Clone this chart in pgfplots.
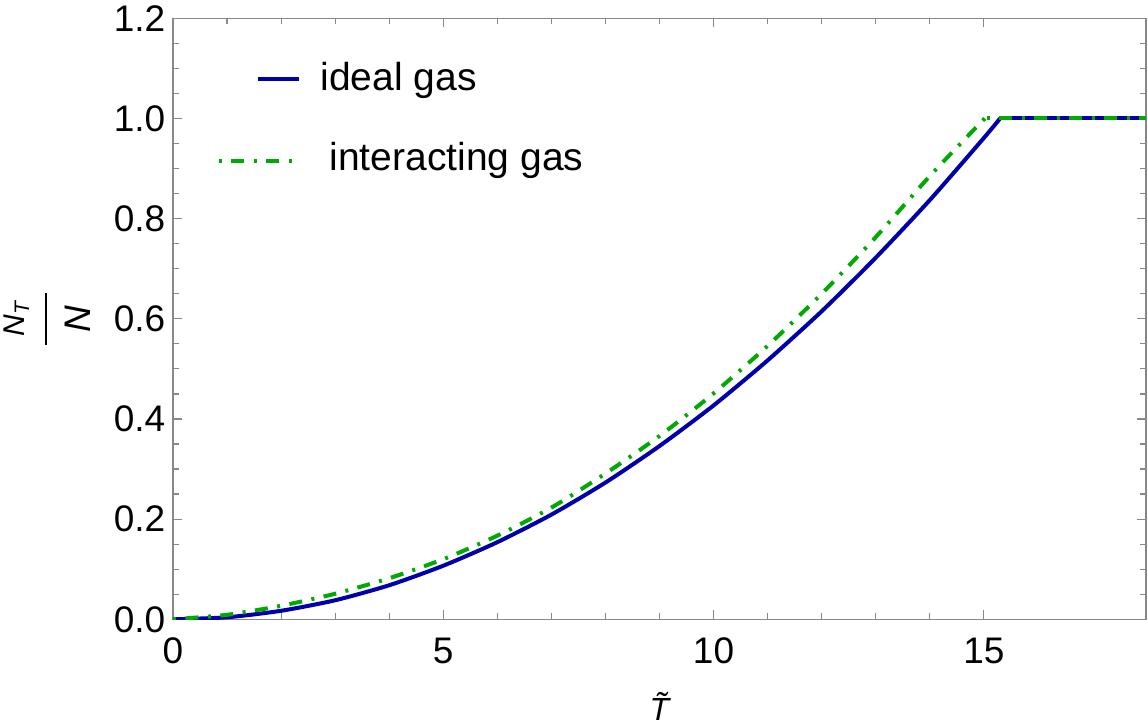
\documentclass[border=0pt]{standalone}
\usepackage{amsmath}
\usepackage{fontspec}
\setmainfont{Liberation Sans}
\usepackage{pgfplots}
\usepackage{pgfplotstable}
\pgfplotsset{compat=1.18}

\definecolor{idealblue}{RGB}{0,0,170}
\definecolor{intgreen}{RGB}{0,170,0}
\definecolor{framegray}{RGB}{136,136,136}

\pgfplotsset{
  ideal legend/.style={legend image code/.code={\draw[##1] (19.5pt,0.5pt) -- (40pt,0.5pt);}},
  int legend/.style={legend image code/.code={\draw[##1] (0pt,-0.5pt) -- (41pt,-0.5pt);}},
  intdash/.style={dash pattern=on 1.5pt off 4.75pt on 6.5pt off 4.75pt},
  every axis y label/.style={at={(axis description cs:0,0.5)}, anchor=center,
    rotate=90, yshift=63pt},
}

% N_T / N drawn as a stacked fraction
\newcommand{\fracNTN}{\vbox{%
  \hbox to 26pt{\hss\fontsize{15}{15}\selectfont\itshape N\textsubscript{T}\hss}%
  \kern 8pt\hrule height 0.75pt\kern 9pt
  \hbox to 26pt{\hss\fontsize{18.5}{18.5}\selectfont\itshape N\hss}}}

% thermal fraction N_T/N against reduced temperature (below the transition)
\pgfplotstableread{
T     v
0     0
1     0.004
2     0.017
3     0.038
4     0.068
5     0.107
6     0.154
7     0.209
8     0.273
9     0.346
10    0.427
11    0.517
12    0.615
13    0.722
14    0.837
15    0.961
15.3  1.0
}\idealgas

\pgfplotstableread{
T     v
0     0
1     0.009
2     0.027
3     0.051
4     0.082
5     0.120
6     0.167
7     0.223
8     0.291
9     0.366
10    0.451
11    0.546
12    0.650
13    0.763
14    0.885
15    0.998
15.05 1.0
}\intgas

\begin{document}
\begin{tikzpicture}
\begin{axis}[
  scale only axis,
  width=486.5pt, height=300.5pt,
  xmin=0, xmax=18, ymin=0, ymax=1.2,
  xtick={0,5,10,15},
  ytick={0,0.2,0.4,0.6,0.8,1.0,1.2},
  minor x tick num=4,
  minor y tick num=3,
  tick align=inside,
  major tick length=4.5pt,
  minor tick length=3pt,
  axis line style={draw=framegray, line width=0.7pt},
  tick style={draw=framegray, line width=0.6pt},
  /pgf/number format/assume math mode=true,
  tick label style={font=\fontsize{18.5}{22}\selectfont, black},
  yticklabel style={/pgf/number format/.cd, fixed, fixed zerofill, precision=1,
    /tikz/.cd, inner xsep=3.7pt},
  xticklabel style={inner ysep=0pt, yshift=-9pt},
  xlabel={\textit{\~T}},
  xlabel style={font=\fontsize{16}{19}\selectfont, at={(axis description cs:0.5,0)},
    anchor=base, yshift=-50.5pt},
  ylabel={\fracNTN},
  legend style={draw=none, fill=none, at={(axis cs:0.80,1.1128)}, anchor=north west,
    inner sep=0pt, row sep=22pt, column sep=9pt,
    font=\fontsize{19.5}{23}\selectfont,
    nodes={inner sep=0pt, text height=14pt, text depth=4pt}},
  legend cell align=left,
]
\addplot[idealblue, line width=2pt, smooth, tension=0.4, ideal legend]
  table[x=T, y=v] {\idealgas};
\addlegendentry{ideal gas}
\addplot[intgreen, line width=2pt, intdash, smooth, tension=0.4, int legend]
  table[x=T, y=v] {\intgas};
\addlegendentry{\hspace{4.5pt}interacting gas}
% plateau above the transition
\addplot[idealblue, line width=2pt, forget plot] coordinates {(15.3,1.0) (18,1.0)};
\addplot[intgreen, line width=2pt, intdash, forget plot] coordinates {(15.05,1.0) (18,1.0)};
\end{axis}
\pgfresetboundingbox
\path[use as bounding box] ([xshift=-86.5pt,yshift=-53.85pt]current axis.south west)
  rectangle ([xshift=1pt,yshift=9.15pt]current axis.north east);
\end{tikzpicture}
\end{document}
